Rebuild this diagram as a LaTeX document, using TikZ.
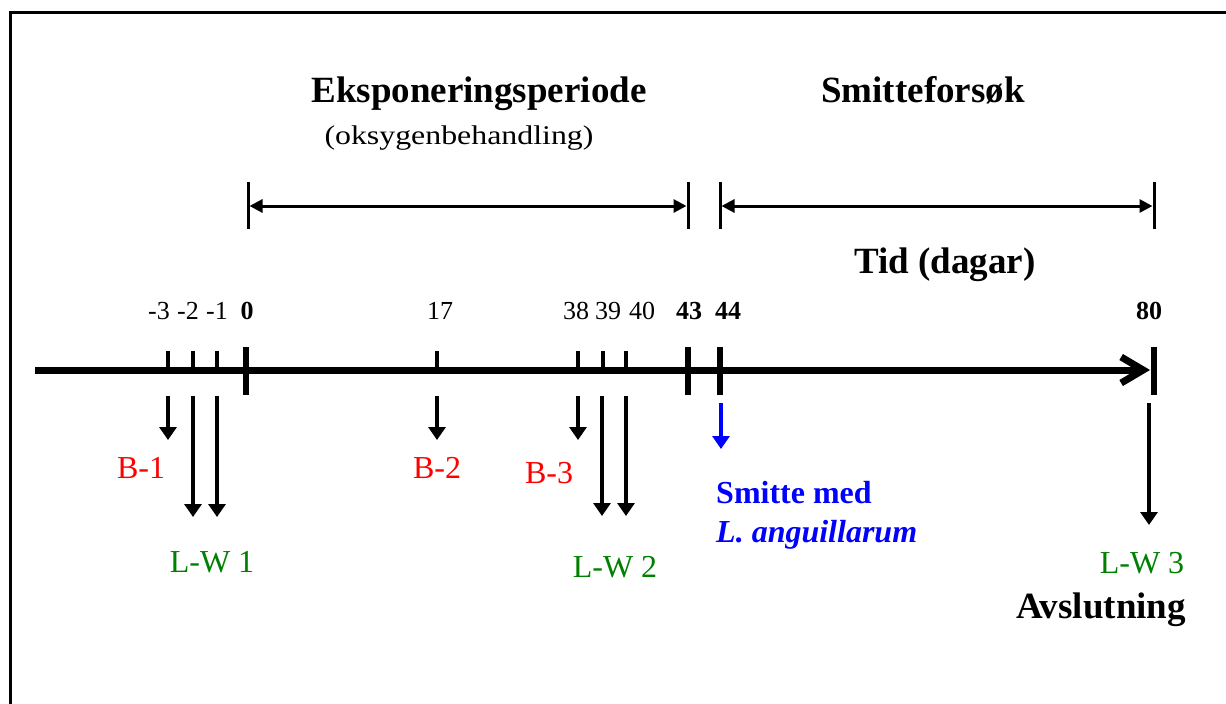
\documentclass[tikz,border=0pt]{standalone}
\usepackage{fontspec}
\setmainfont{Liberation Serif}
\usetikzlibrary{arrows.meta}
\definecolor{lred}{RGB}{255,0,0}
\definecolor{lgreen}{RGB}{0,128,0}
\definecolor{lblue}{RGB}{0,0,255}
\begin{document}
\begin{tikzpicture}[x=1pt,y=-1pt,
  hd/.style={font=\fontsize{37}{42}\selectfont\bfseries, inner sep=0pt, anchor=base},
  lb/.style={font=\fontsize{32}{36}\selectfont, inner sep=0pt, anchor=base},
  nm/.style={font=\fontsize{26}{30}\selectfont, inner sep=0pt, anchor=base},
  nmb/.style={font=\fontsize{26}{30}\selectfont\bfseries, inner sep=0pt, anchor=base},
  smalltick/.style={line width=4pt},
  bigtick/.style={line width=6pt},
  bar/.style={line width=3pt},
  span/.style={line width=3pt, {Triangle[width=13pt,length=13pt]}-{Triangle[width=13pt,length=13pt]}},
  down/.style={line width=3.5pt, -{Triangle[width=17pt,length=13pt]}},
  axis/.style={line width=7pt, -{Straight Barb[length=22pt,width=26pt]}}
]
\useasboundingbox (0,0) rectangle (1226,704);
% frame (top and left edges)
\draw[line width=3pt] (10.5,704) -- (10.5,12.5) -- (1226,12.5);

% headings
\node[hd] (eksp) at (479,102) {Eksponeringsperiode};
\node[font=\fontsize{27}{30}\selectfont, inner sep=0pt, anchor=base] (oksy) at (459,144) {\scalebox{1.18}[1]{(oksygenbehandling)}};
\node[hd] (smit) at (923,102) {Smitteforsøk};
\node[hd] (tid) at (945,273) {Tid (dagar)};

% spans
\coordinate (b1t) at (248,182); \coordinate (b1b) at (248,229);
\coordinate (b2t) at (688,182); \coordinate (b2b) at (688,229);
\coordinate (b3t) at (720,182); \coordinate (b3b) at (720,229);
\coordinate (b4t) at (1154,182); \coordinate (b4b) at (1154,229);
\draw[bar] (b1t) -- (b1b);
\draw[bar] (b2t) -- (b2b);
\draw[bar] (b3t) -- (b3b);
\draw[bar] (b4t) -- (b4b);
\coordinate (s1a) at (249.5,206); \coordinate (s1b) at (686.5,206);
\coordinate (s2a) at (721.5,206); \coordinate (s2b) at (1152.5,206);
\draw[span] (s1a) -- (s1b);
\draw[span] (s2a) -- (s2b);

% axis
\coordinate (axL) at (35,370);
\coordinate (axR) at (1150,370);
\draw[axis] (axL) -- (axR);

% small ticks
\foreach \x/\n in {168/m3,193/m2,217/m1,437/t17,578/t38,603/t39,626/t40}{
  \coordinate (tt\n) at (\x,351);
  \coordinate (tb\n) at (\x,370);
  \draw[smalltick] (tt\n) -- (tb\n);
}
% big ticks
\foreach \x/\n in {246/t0,688/t43,720/t44,1154/t80}{
  \coordinate (tt\n) at (\x,347);
  \coordinate (tb\n) at (\x,395);
  \draw[bigtick] (tt\n) -- (tb\n);
}

% tick numbers
\node[nm] (n1) at (159,319) {-3};
\node[nm] (n2) at (188,319) {-2};
\node[nm] (n3) at (217,319) {-1};
\node[nmb] (n4) at (247,319) {0};
\node[nm] (n5) at (440,319) {17};
\node[nm] (n6) at (576,319) {38};
\node[nm] (n7) at (608,319) {39};
\node[nm] (n8) at (642,319) {40};
\node[nmb] (n9) at (689,319) {43};
\node[nmb] (n10) at (728,319) {44};
\node[nmb] (n11) at (1149,319) {80};

% down arrows
\coordinate (a1s) at (168,396); \coordinate (a1e) at (168,440);
\coordinate (a2s) at (193,396); \coordinate (a2e) at (193,517);
\coordinate (a3s) at (217,396); \coordinate (a3e) at (217,517);
\coordinate (a4s) at (437,396); \coordinate (a4e) at (437,440);
\coordinate (a5s) at (578,396); \coordinate (a5e) at (578,440);
\coordinate (a6s) at (602,396); \coordinate (a6e) at (602,516);
\coordinate (a7s) at (626,396); \coordinate (a7e) at (626,516);
\coordinate (a8s) at (721,403); \coordinate (a8e) at (721,449);
\coordinate (a9s) at (1149,403); \coordinate (a9e) at (1149,525);
\draw[down] (a1s) -- (a1e);
\draw[down] (a2s) -- (a2e);
\draw[down] (a3s) -- (a3e);
\draw[down] (a4s) -- (a4e);
\draw[down] (a5s) -- (a5e);
\draw[down] (a6s) -- (a6e);
\draw[down] (a7s) -- (a7e);
\draw[down, lblue, line width=4.5pt] (a8s) -- (a8e);
\draw[down] (a9s) -- (a9e);

% labels
\node[lb, text=lred] (B1) at (141,478) {B-1};
\node[lb, text=lred] (B2) at (437,478) {B-2};
\node[lb, text=lred] (B3) at (549,483) {B-3};
\node[lb, text=lgreen] (LW1) at (212,572) {L-W 1};
\node[lb, text=lgreen] (LW2) at (615,577) {L-W 2};
\node[lb, text=lgreen] (LW3) at (1142,573) {L-W 3};
\node[font=\fontsize{32}{36}\selectfont\bfseries, text=lblue, inner sep=0pt, anchor=base west] (sm1) at (716,503) {Smitte med};
\node[font=\fontsize{32}{36}\selectfont\bfseries\itshape, text=lblue, inner sep=0pt, anchor=base west] (sm2) at (716,542) {L. anguillarum};
\node[hd] (avs) at (1101,618) {Avslutning};
\end{tikzpicture}
\end{document}
